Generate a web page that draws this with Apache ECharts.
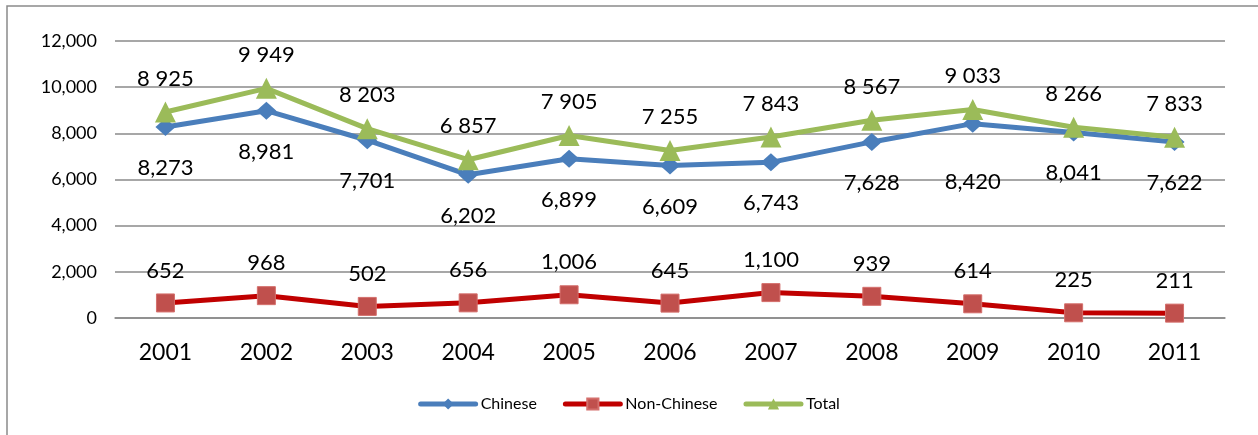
<!DOCTYPE html>
<html>
<head>
<meta charset="utf-8">
<script src="https://cdn.jsdelivr.net/npm/echarts@6/dist/echarts.min.js"></script>
<style>
  html, body { margin: 0; padding: 0; background: #fff; }
  #chart { width: 1258px; height: 435px; }
</style>
</head>
<body>
<div id="chart"></div>
<script>
// Students by origin, 2001–2011
const years = ['2001', '2002', '2003', '2004', '2005', '2006', '2007', '2008', '2009', '2010', '2011'];
const chinese = [8273, 8981, 7701, 6202, 6899, 6609, 6743, 7628, 8420, 8041, 7622];
const nonChinese = [652, 968, 502, 656, 1006, 645, 1100, 939, 614, 225, 211];
const total = [8925, 9949, 8203, 6857, 7905, 7255, 7843, 8567, 9033, 8266, 7833];
const yTicks = [0, 2000, 4000, 6000, 8000, 10000, 12000];

const FONT = 'Lato, "Open Sans", sans-serif';
const withComma = v => v.toLocaleString('en-US');
const withSpace = v => v.toLocaleString('en-US').replace(/,/g, ' ');

const labelBase = { show: true, color: '#000', fontFamily: FONT, fontSize: 22 };

const chart = echarts.init(document.getElementById('chart'), null, { renderer: 'canvas' });

chart.setOption({
  animation: false,
  backgroundColor: '#fff',
  textStyle: { fontFamily: FONT },
  graphic: [{
    type: 'rect',
    shape: { x: 7, y: 6, width: 1300, height: 500 },
    style: { fill: 'none', stroke: '#8a8a8a', lineWidth: 1.5 },
    silent: true
  }],
  grid: { left: 115, right: 33, top: 41, bottom: 117 },
  legend: {
    bottom: 18,
    left: 'center',
    itemWidth: 55,
    itemHeight: 14,
    itemGap: 26,
    lineStyle: { width: 5, cap: 'round' },
    textStyle: { fontFamily: FONT, fontSize: 16, color: '#000' },
    data: ['Chinese', 'Non-Chinese', 'Total']
  },
  xAxis: {
    type: 'category',
    data: years,
    boundaryGap: true,
    axisLine: { show: true, lineStyle: { color: '#8a8a8a', width: 1.5 } },
    axisTick: { show: false },
    axisLabel: { color: '#000', fontFamily: FONT, fontSize: 23, margin: 23 }
  },
  yAxis: {
    type: 'value',
    min: yTicks[0],
    max: yTicks[yTicks.length - 1],
    interval: yTicks[1] - yTicks[0],
    axisLine: { show: false },
    axisTick: { show: false },
    splitLine: { lineStyle: { color: '#8a8a8a', width: 1.5 } },
    axisLabel: { color: '#000', fontFamily: FONT, fontSize: 18, margin: 18, formatter: v => withComma(v) }
  },
  series: [
    {
      name: 'Chinese',
      type: 'line',
      // the 2009 label sits lower so it clears the Total line
      data: chinese.map((v, i) => i === 8
        ? { value: v, label: { distance: 38 } }
        : v),
      symbol: 'diamond',
      symbolSize: [20, 18],
      lineStyle: { color: '#4a7ebb', width: 5 },
      itemStyle: { color: '#4a7ebb' },
      label: Object.assign({}, labelBase, { position: 'bottom', distance: 21, formatter: p => withComma(p.value) }),
      z: 2
    },
    {
      name: 'Non-Chinese',
      type: 'line',
      data: nonChinese,
      symbol: 'rect',
      symbolSize: 18,
      lineStyle: { color: '#c00000', width: 5 },
      itemStyle: { color: '#c0504d', borderColor: '#d46f6c', borderWidth: 1 },
      label: Object.assign({}, labelBase, { position: 'top', distance: 12, formatter: p => withComma(p.value) }),
      z: 2
    },
    {
      name: 'Total',
      type: 'line',
      data: total,
      symbol: 'triangle',
      symbolSize: 21,
      lineStyle: { color: '#9bbb59', width: 5 },
      itemStyle: { color: '#9bbb59' },
      label: Object.assign({}, labelBase, { position: 'top', distance: 12, formatter: p => withSpace(p.value) }),
      z: 3
    }
  ]
});
</script>
</body>
</html>
